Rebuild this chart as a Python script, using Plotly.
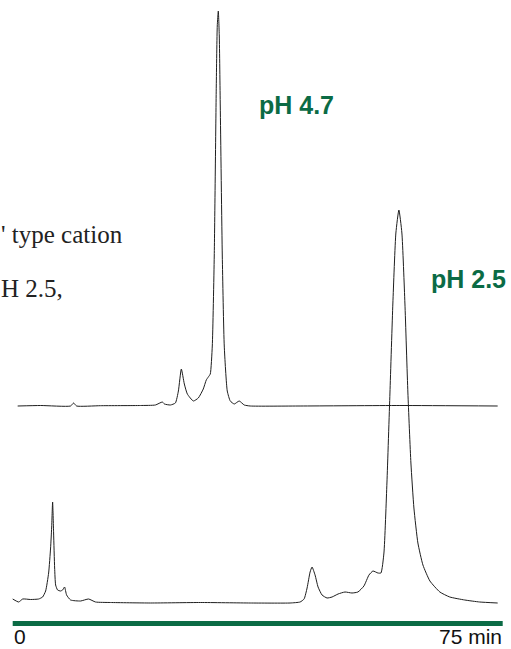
import plotly.graph_objects as go

# Retention time (min) and detector signal (arbitrary units) - pH 4.7 run
t_ph47 = [0.76, 4.28, 8.86, 9.32, 9.78, 13.44, 19.55, 21.84, 22.91, 23.22, 24.13, 24.90,
          25.36, 25.81, 26.27, 26.73, 27.65, 28.41, 29.17, 29.63, 29.94, 30.24, 30.55,
          30.85, 31.16, 31.31, 31.47, 31.62, 31.77, 32.08, 32.38, 32.84, 33.30, 33.91,
          34.67, 35.44, 36.35, 43.99, 59.26, 74.23]
s_ph47 = [0, 0.5, 0, 3, 0, 0.3, 0.5, 1, 4, 2, 1, 3,
          15, 37, 22, 12, 5, 8, 17, 26, 29, 32, 60,
          150, 320, 380, 395, 370, 300, 150, 60, 15, 5, 2,
          5, 1, 0, 0, 0.5, 0]

# pH 2.5 run
t_ph25 = [0.0, 0.92, 1.53, 2.75, 3.97, 4.58, 5.04, 5.50, 5.80, 5.96, 6.11, 6.26, 6.42,
          6.57, 6.87, 7.33, 7.64, 7.94, 8.25, 8.86, 10.39, 11.61, 12.68, 14.97, 21.08,
          28.72, 36.35, 42.46, 43.99, 44.60, 45.06, 45.52, 45.82, 46.28, 46.74, 47.35,
          48.11, 48.88, 49.80, 50.86, 51.93, 52.84, 53.76, 54.53, 55.14, 55.90, 56.36,
          56.82, 57.28, 57.74, 58.19, 58.65, 59.11, 59.57, 60.03, 60.49, 60.95, 61.41,
          62.02, 62.79, 63.86, 65.38, 66.90, 69.19, 71.48, 74.23]
s_ph25 = [4, 1, 4, 3.5, 4, 6, 12, 30, 55, 75, 101, 70, 35,
          18, 13, 12, 13, 16, 8, 3, 2, 4, 1, 0.5, 0,
          0.5, 0, 0, 1, 4, 15, 31, 36, 28, 16, 8,
          5, 6, 9, 11, 10, 11, 17, 28, 32, 30, 30,
          50, 120, 210, 300, 370, 393, 370, 300, 210, 140, 95,
          60, 38, 22, 11, 6, 3, 1, 0]

time_axis = [0, 75]
tick_labels = ["0", "75 min"]
run_labels = ["pH 4.7", "pH 2.5"]
caption_lines = ["' type cation", "H 2.5,"]

GREEN = "#0b6b45"
LINE = "#1e1e1e"
W, H = 511, 649
off_top, off_bot = 243, 46

fig = go.Figure()
fig.add_trace(go.Scatter(x=t_ph47, y=[v + off_top for v in s_ph47], mode="lines",
                         line=dict(color=LINE, width=1, shape="spline", smoothing=0.5),
                         hoverinfo="skip"))
fig.add_trace(go.Scatter(x=t_ph25, y=[v + off_bot for v in s_ph25], mode="lines",
                         line=dict(color=LINE, width=1, shape="spline", smoothing=0.5),
                         hoverinfo="skip"))
fig.add_trace(go.Scatter(x=time_axis, y=[H - 623.5] * 2, mode="lines",
                         line=dict(color=GREEN, width=5), hoverinfo="skip"))

def py(p):
    return 1 - p / H

ann = [
    dict(x=time_axis[0], xref="x", y=0, yref="paper", text=tick_labels[0],
         xanchor="left", yanchor="bottom", font=dict(family="Liberation Sans", size=21, color="#111")),
    dict(x=time_axis[1], xref="x", y=0, yref="paper", text=tick_labels[1],
         xanchor="right", yanchor="bottom", font=dict(family="Liberation Sans", size=21, color="#111")),
    dict(x=258 / W, xref="paper", y=py(105), yref="paper", text="<b>%s</b>" % run_labels[0],
         xanchor="left", yanchor="middle", font=dict(family="Liberation Sans", size=25, color=GREEN)),
    dict(x=430 / W, xref="paper", y=py(279), yref="paper", text="<b>%s</b>" % run_labels[1],
         xanchor="left", yanchor="middle", font=dict(family="Liberation Sans", size=25, color=GREEN)),
    dict(x=0, xref="paper", y=py(234), yref="paper", text=caption_lines[0],
         xanchor="left", yanchor="middle", font=dict(family="Liberation Serif", size=25, color="#222")),
    dict(x=0, xref="paper", y=py(288), yref="paper", text=caption_lines[1],
         xanchor="left", yanchor="middle", font=dict(family="Liberation Serif", size=25, color="#222")),
]
for a in ann:
    a.update(showarrow=False, borderpad=0)

fig.update_layout(
    width=W, height=H, margin=dict(l=0, r=0, t=0, b=0),
    paper_bgcolor="white", plot_bgcolor="white", showlegend=False,
    xaxis=dict(range=[-1.944, 76.27], visible=False, fixedrange=True),
    yaxis=dict(range=[0, H], visible=False, fixedrange=True),
    annotations=ann,
)
fig.write_html("out.html", config={"displayModeBar": False})
